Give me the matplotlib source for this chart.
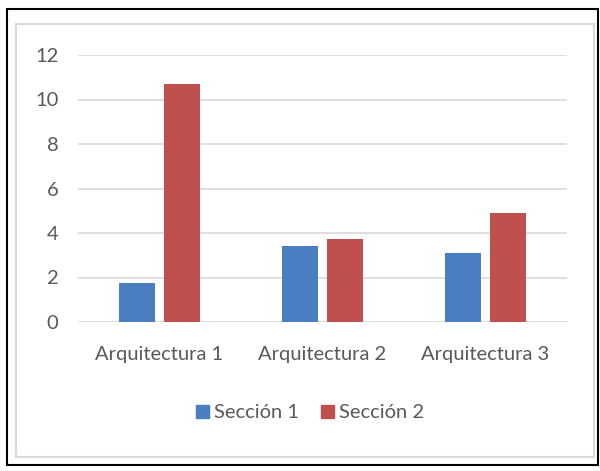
import matplotlib
matplotlib.use("Agg")
import matplotlib.pyplot as plt
from matplotlib.patches import Rectangle
import numpy as np

categories = ["Arquitectura 1", "Arquitectura 2", "Arquitectura 3"]
series_names = ["Sección 1", "Sección 2"]
seccion1 = [1.76, 3.41, 3.12]
seccion2 = [10.69, 3.71, 4.88]
yticks = [0, 2, 4, 6, 8, 10, 12]

blue = "#4A7EC1"
red = "#C0504D"
text_col = "#595959"
fam = ["Lato", "DejaVu Sans"]
fs = 14.5

fig = plt.figure(figsize=(6.0, 4.71), dpi=100)
fig.patch.set_facecolor("white")

W, H = 600.0, 471.0
# outer black border
fig.patches.append(Rectangle((7/W, 1-465/H), (598-7)/W, (465-9)/H,
                             transform=fig.transFigure, fill=False,
                             edgecolor="black", linewidth=1.5))
# chart area border (light gray)
fig.patches.append(Rectangle((16/W, 1-457/H), (594-16)/W, (457-24)/H,
                             transform=fig.transFigure, fill=False,
                             edgecolor="#D9D9D9", linewidth=1.5))

ax = fig.add_axes([78/W, 1-322/H, (567-78)/W, (322-55)/H])
x = np.arange(len(categories))
w = 0.221
off = 0.141
ax.bar(x - off, seccion1, width=w, color=blue, label=series_names[0], zorder=3)
ax.bar(x + off, seccion2, width=w, color=red, label=series_names[1], zorder=3)

ax.set_xlim(-0.5, 2.5)
ax.set_ylim(0, 12)
ax.set_yticks(yticks)
ax.set_yticklabels([str(v) for v in yticks], family=fam, fontsize=fs, color=text_col)
ax.set_xticks(x)
ax.set_xticklabels(categories, family=fam, fontsize=fs, color=text_col)
ax.tick_params(axis="both", length=0)
ax.tick_params(axis="y", pad=14)
ax.tick_params(axis="x", pad=17)
for s in ax.spines.values():
    s.set_visible(False)
ax.yaxis.grid(True, color="#D9D9D9", linewidth=1.2, zorder=0)
ax.set_axisbelow(True)

handles = [Rectangle((0, 0), 1, 1, color=blue), Rectangle((0, 0), 1, 1, color=red)]
leg = fig.legend(handles, series_names, loc="center", bbox_to_anchor=(310/W, 1-413/H),
                 ncol=2, frameon=False, handlelength=0.65, handleheight=0.65,
                 handletextpad=0.25, columnspacing=1.1,
                 prop={"family": fam, "size": fs})
for t in leg.get_texts():
    t.set_color(text_col)

fig.savefig("out.png", dpi=100, facecolor="white")
